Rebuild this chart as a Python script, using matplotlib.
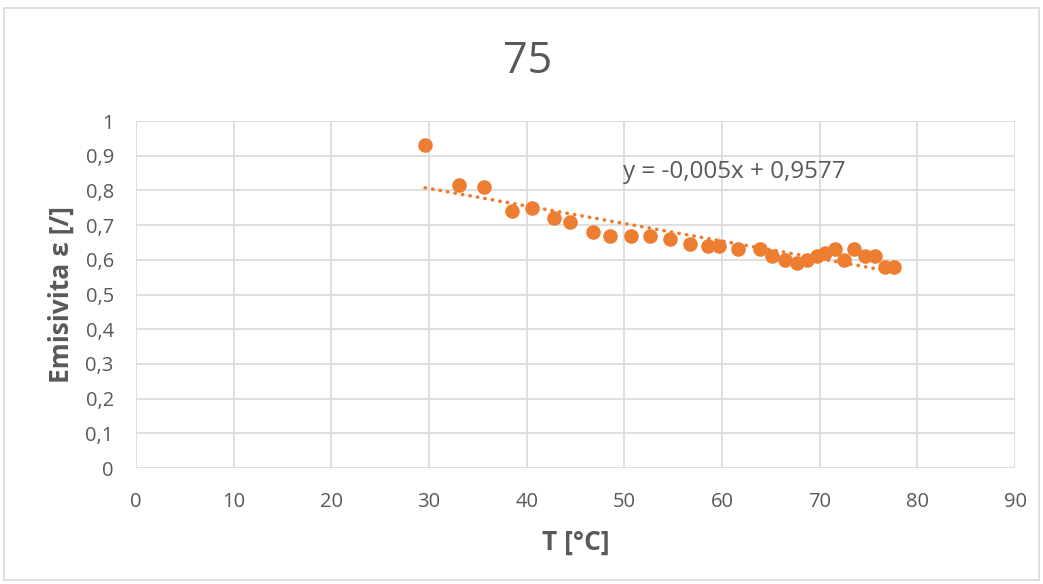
import numpy as np
import matplotlib.pyplot as plt
from matplotlib.patches import Rectangle

# data
T = [29.6, 33.1, 35.6, 38.5, 40.5, 42.8, 44.4, 46.8, 48.5, 50.7, 52.6, 54.7,
     56.7, 58.6, 59.7, 61.6, 63.9, 65.1, 66.4, 67.7, 68.7, 69.7, 70.5, 71.6,
     72.5, 73.5, 74.6, 75.7, 76.7, 77.6]
eps = [0.93, 0.815, 0.81, 0.74, 0.75, 0.72, 0.71, 0.68, 0.67, 0.67, 0.67, 0.66,
       0.645, 0.64, 0.64, 0.63, 0.63, 0.61, 0.60, 0.59, 0.60, 0.61, 0.62, 0.63,
       0.60, 0.63, 0.61, 0.61, 0.58, 0.58]
xticks = [0, 10, 20, 30, 40, 50, 60, 70, 80, 90]
yticks = [0, 0.1, 0.2, 0.3, 0.4, 0.5, 0.6, 0.7, 0.8, 0.9, 1]
ylabels = ['0', '0,1', '0,2', '0,3', '0,4', '0,5', '0,6', '0,7', '0,8', '0,9', '1']
eq_text = 'y = -0,005x + 0,9577'

orange = '#ED7D31'
grey = '#595959'
gridc = '#d9d9d9'

plt.rcParams['font.family'] = ['Open Sans', 'DejaVu Sans']

fig = plt.figure(figsize=(10.43, 5.84), dpi=100)
ax = fig.add_axes([0.1304, 0.1986, 0.8428, 0.5942])

# linear trendline
k, q = np.polyfit(T, eps, 1)
tx = np.array([min(T), max(T)])
ax.plot(tx, k*tx + q, linestyle=(0, (0.1, 2.0)), color=orange, lw=2.6,
        dash_capstyle='round', zorder=2)

ax.scatter(T, eps, s=110, color=orange, zorder=3, linewidths=0)

ax.set_xlim(0, 90)
ax.set_ylim(0, 1)
ax.set_xticks(xticks)
ax.set_yticks(yticks)
ax.set_yticklabels(ylabels)
ax.grid(True, color=gridc, lw=1.2)
ax.set_axisbelow(True)
for s in ax.spines.values():
    s.set_visible(False)
ax.tick_params(length=0, labelsize=14.5, labelcolor=grey)
ax.tick_params(axis='x', pad=17)
ax.tick_params(axis='y', pad=16)

ax.set_xlabel('T [°C]', fontsize=19, fontweight='bold', color=grey, labelpad=12)
ax.set_ylabel('Emisivita ε [/]', fontsize=19, fontweight='bold', color=grey, labelpad=8)

fig.text(0.5058, 0.894, '75', ha='center', va='center', fontsize=31, color=grey)
ax.text(49.9, 0.853, eq_text, fontsize=17.5, color=grey, va='center')

# chart border
fig.patches.append(Rectangle((0.004, 0.006), 0.992, 0.98, transform=fig.transFigure,
                             fill=False, edgecolor=gridc, lw=1.2))

plt.savefig('out.png', dpi=100)
